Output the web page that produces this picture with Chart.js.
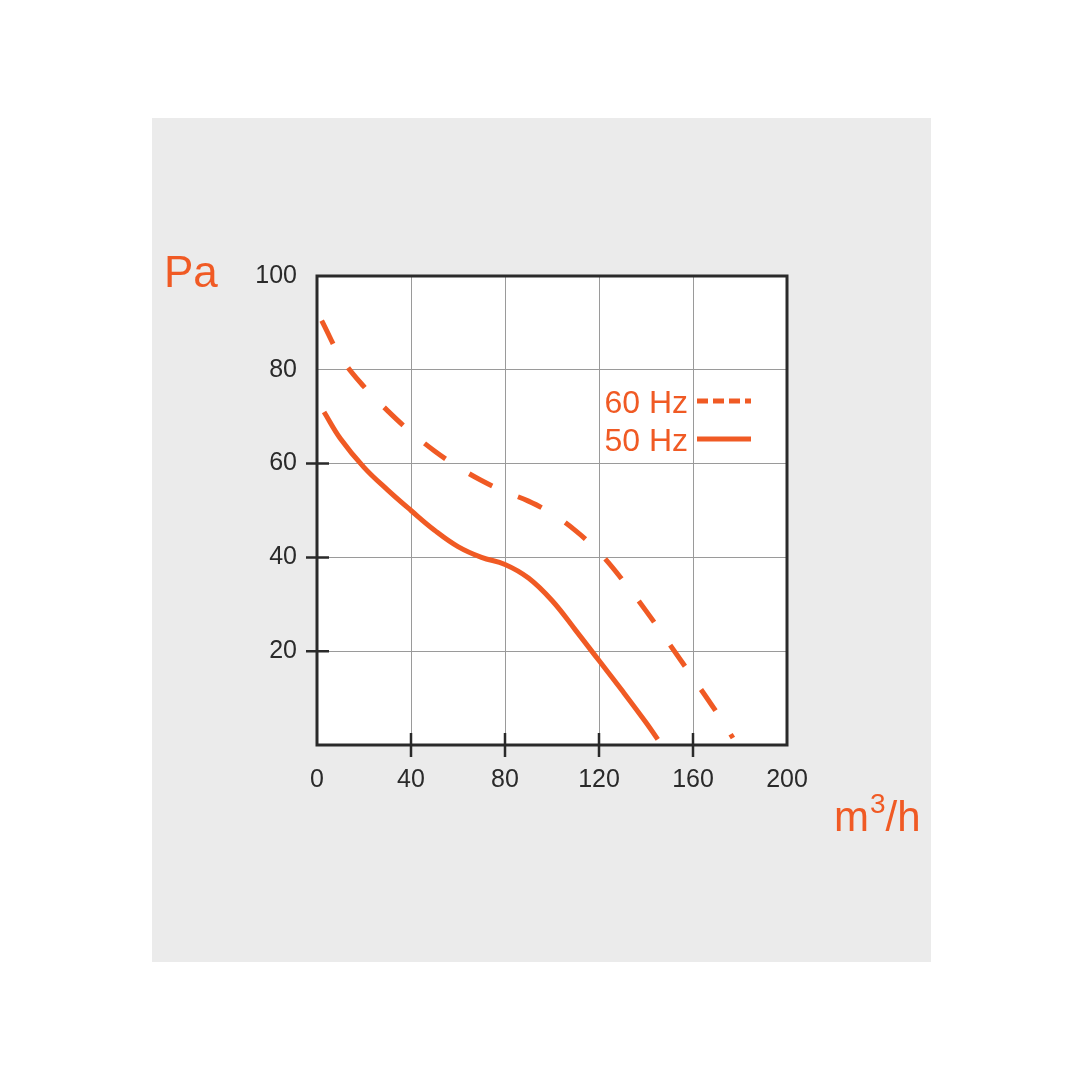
<!DOCTYPE html>
<html>
<head>
<meta charset="utf-8">
<script src="https://cdn.jsdelivr.net/npm/chart.js@4.4.1/dist/chart.umd.min.js"></script>
<style>
    html, body { margin: 0; padding: 0; background: #ffffff; }
    #wrap { width: 1080px; height: 1080px; }
</style>
</head>
<body>
<div id="wrap"><canvas id="fan-chart" width="1080" height="1080"></canvas></div>
<script>
// Fan curve: static pressure (Pa) vs air flow (m3/h)
const flow50 = [3, 10, 20, 30, 40, 50, 60, 70, 80, 90, 100, 110, 120, 130, 140, 145];
const pressure50 = [71, 65.3, 59.2, 54.4, 50, 45.8, 42.3, 40, 38.5, 35.6, 30.8, 24.5, 18, 11.5, 4.8, 1.2];

const flow60 = [2, 10, 20, 30, 40, 50, 60, 70, 80, 90, 100, 110, 120, 130, 140, 150, 160, 170, 177];
const pressure60 = [90.5, 82.8, 76.4, 71.3, 66.7, 62.7, 59.3, 56.4, 54, 52, 49.3, 45.7, 41.1, 35.2, 28.6, 21.5, 14.3, 7, 1.5];

const seriesLabels = ['60 Hz', '50 Hz'];
const xTickLabels = [0, 40, 80, 120, 160, 200];
const yTickLabels = [20, 40, 60, 80, 100];
const xTickMarks = [40, 80, 120, 160];
const yTickMarks = [20, 40, 60];

const ORANGE = '#f05a24';
const INK = '#2a2a2a';
const FONT = '"Liberation Sans", Arial, sans-serif';

const toPoints = (xs, ys) => xs.map((x, i) => ({ x, y: ys[i] }));

// Grey panel + white plot area, frame, tick marks, axis titles, legend
const decorPlugin = {
    id: 'decor',
    beforeDraw(chart) {
        const { ctx, chartArea: a } = chart;
        ctx.save();
        ctx.fillStyle = '#ebebeb';
        ctx.fillRect(152, 118, 779, 844);
        ctx.fillStyle = '#ffffff';
        ctx.fillRect(a.left, a.top, a.right - a.left, a.bottom - a.top);
        ctx.restore();
    },
    afterDraw(chart) {
        const { ctx, chartArea: a } = chart;
        const xs = chart.scales.x, ys = chart.scales.y;
        ctx.save();

        // frame
        ctx.strokeStyle = INK;
        ctx.lineWidth = 3;
        ctx.strokeRect(a.left, a.top, a.right - a.left, a.bottom - a.top);

        // tick marks crossing the axes
        ctx.lineWidth = 2.5;
        ctx.beginPath();
        xTickMarks.forEach(v => {
            const px = xs.getPixelForValue(v);
            ctx.moveTo(px, a.bottom - 12);
            ctx.lineTo(px, a.bottom + 12);
        });
        yTickMarks.forEach(v => {
            const py = ys.getPixelForValue(v);
            ctx.moveTo(a.left - 11, py);
            ctx.lineTo(a.left + 12, py);
        });
        ctx.stroke();

        // axis titles
        ctx.fillStyle = ORANGE;
        ctx.textBaseline = 'alphabetic';
        ctx.textAlign = 'left';
        ctx.font = '44px ' + FONT;
        ctx.fillText('Pa', 164, 287);

        let tx = 834;
        const base = 831;
        ctx.font = '42px ' + FONT;
        ctx.fillText('m', tx, base);
        tx += ctx.measureText('m').width;
        ctx.font = '28px ' + FONT;
        ctx.fillText('3', tx + 1, base - 18);
        tx += ctx.measureText('3').width + 1;
        ctx.font = '42px ' + FONT;
        ctx.fillText('/h', tx, base);

        // legend
        const rows = [
            { y: 403, dash: [11, 5] },
            { y: 441, dash: [] }
        ];
        chart.data.datasets.forEach((ds, i) => {
            const r = rows[i];
            ctx.font = '32px ' + FONT;
            ctx.fillStyle = ORANGE;
            ctx.textAlign = 'right';
            ctx.textBaseline = 'middle';
            ctx.fillText(ds.label, 688, r.y + 1);
            ctx.strokeStyle = ORANGE;
            ctx.lineWidth = 5;
            ctx.setLineDash(r.dash);
            ctx.beginPath();
            ctx.moveTo(697, r.y - 2);
            ctx.lineTo(751, r.y - 2);
            ctx.stroke();
        });
        ctx.setLineDash([]);
        ctx.restore();
    }
};

const ctx = document.getElementById('fan-chart').getContext('2d');
new Chart(ctx, {
    type: 'line',
    data: {
        datasets: [
            {
                label: seriesLabels[0],
                data: toPoints(flow60, pressure60),
                borderColor: ORANGE,
                borderWidth: 5,
                borderDash: [26, 28],
                borderCapStyle: 'butt',
                tension: 0.4,
                pointRadius: 0,
                fill: false
            },
            {
                label: seriesLabels[1],
                data: toPoints(flow50, pressure50),
                borderColor: ORANGE,
                borderWidth: 5,
                tension: 0.4,
                pointRadius: 0,
                fill: false
            }
        ]
    },
    options: {
        responsive: false,
        animation: false,
        devicePixelRatio: 1,
        layout: { padding: { left: 152, top: 276, right: 293, bottom: 275 } },
        plugins: {
            legend: { display: false },
            tooltip: { enabled: false }
        },
        scales: {
            x: {
                type: 'linear',
                min: 0,
                max: 200,
                afterFit: s => { s.height = 60; },
                afterBuildTicks: s => { s.ticks = xTickLabels.map(v => ({ value: v })); },
                grid: { color: '#9a9a9a', lineWidth: 1, drawTicks: false },
                border: { display: false },
                ticks: {
                    color: INK,
                    font: { family: FONT, size: 25 },
                    padding: 20
                }
            },
            y: {
                type: 'linear',
                min: 0,
                max: 100,
                afterFit: s => { s.width = 165; },
                afterBuildTicks: s => { s.ticks = [0, ...yTickLabels].map(v => ({ value: v })); },
                grid: { color: '#9a9a9a', lineWidth: 1, drawTicks: false },
                border: { display: false },
                ticks: {
                    color: INK,
                    font: { family: FONT, size: 25 },
                    padding: 20,
                    callback: v => (v === 0 ? '' : v)
                }
            }
        }
    },
    plugins: [decorPlugin]
});
</script>
</body>
</html>
